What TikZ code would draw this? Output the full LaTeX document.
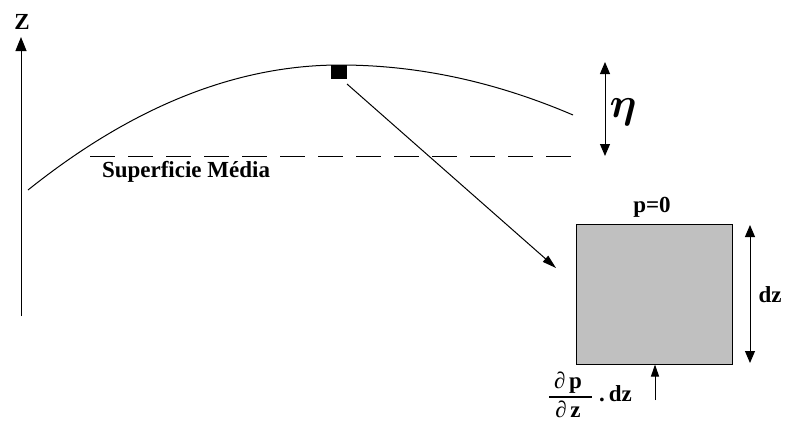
\documentclass[tikz,border=0pt]{standalone}
\usepackage{bm}
\usepackage{fontspec}
\setmainfont{Liberation Serif}
\usetikzlibrary{arrows.meta}
\begin{document}
\begin{tikzpicture}[x=1pt,y=-1pt,
  lbl/.style={font=\bfseries\fontsize{23}{26}\selectfont, inner sep=0pt},
  arr/.style={-{Triangle[length=14pt,width=11pt]}, line width=1pt},
  darr/.style={{Triangle[length=12pt,width=10pt]}-{Triangle[length=12pt,width=10pt]}, line width=1pt},
  line/.style={line width=1pt}]
\useasboundingbox (0,0) rectangle (788,421);
% Z axis
\coordinate (zb) at (21,316);
\coordinate (zt) at (21,37);
\draw[arr] (zb) -- (zt);
\node[lbl] (zl) at (22,22) {Z};
% surface curve
\coordinate (c0) at (28,190);
\coordinate (c1) at (340,65);
\coordinate (c2) at (573,115);
\draw[line] (c0) .. controls (132,106.7) and (236,65) .. (c1)
  .. controls (417.7,65) and (495.3,81.7) .. (c2);
% particle
\node[fill=black, minimum width=16pt, minimum height=14pt, inner sep=0pt] (sq) at (339,72) {};
\coordinate (as) at (347,84);
\coordinate (ae) at (556,268);
\draw[-{Triangle[length=14pt,width=8pt]}, line width=1pt] (as) -- (ae);
% mean level
\draw[line, dash pattern=on 25pt off 13pt] (90,156) -- (575,156);
\node[lbl] (sm) at (186,172) {Superficie Média};
% eta
\coordinate (et) at (605,62);
\coordinate (eb) at (605,156);
\draw[darr] (eb) -- (et);
\node[inner sep=0pt, scale=1.7, font=\fontsize{24}{26}\selectfont] (eta) at (623,112) {$\bm{\eta}$};
% box
\node[draw=black, fill={rgb,255:red,192;green,192;blue,192}, line width=1pt, minimum width=156pt, minimum height=140pt, inner sep=0pt] (box) at (654,294) {};
\node[lbl] (p0) at (652,207) {p=0};
\coordinate (dt) at (750,225);
\coordinate (db) at (750,363);
\draw[darr] (dt) -- (db);
\node[lbl] (dzl) at (770,295) {dz};
% bottom
\coordinate (bb) at (655,400);
\draw[-{Triangle[length=12pt,width=8pt]}, line width=1pt] (bb) -- (box.south -| bb);
\node[inner sep=0pt, anchor=base, font=\fontsize{23}{26}\selectfont] (num) at (568,388) {∂\,\textbf{p}};
\node[inner sep=0pt, anchor=base, font=\fontsize{23}{26}\selectfont] (den) at (568,417) {∂\,\textbf{z}};
\coordinate (fl) at (549,397);
\coordinate (fr) at (592,397);
\draw[line width=1.1pt] (fl) -- (fr);
\node[lbl, anchor=base west] (dzb) at (599,401) {.\,dz};
\end{tikzpicture}
\end{document}
